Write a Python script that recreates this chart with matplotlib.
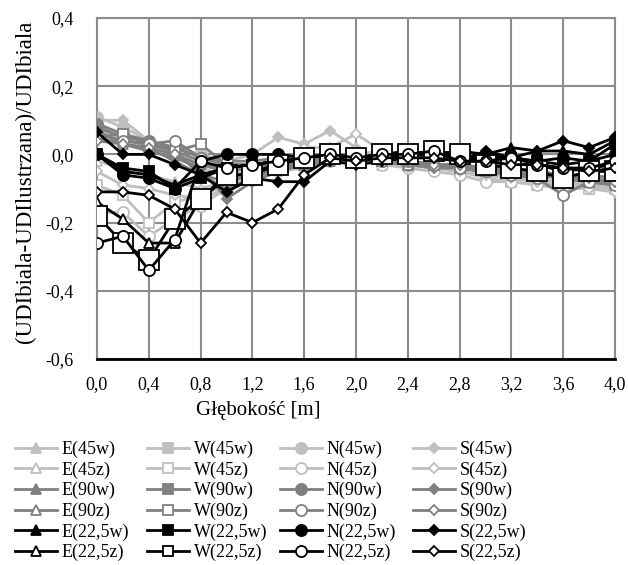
import matplotlib
matplotlib.use("Agg")
import matplotlib.pyplot as plt
from matplotlib.lines import Line2D

plt.rcParams['font.family'] = ['Liberation Serif', 'DejaVu Serif']

depth = [round(0.2 * i, 1) for i in range(21)]
xticks = [0.0, 0.4, 0.8, 1.2, 1.6, 2.0, 2.4, 2.8, 3.2, 3.6, 4.0]
yticks = [-0.6, -0.4, -0.2, 0.0, 0.2, 0.4]

# 45 (light gray)
E_45w = [0.08, 0.06, 0.03, 0.0, -0.03, -0.05, -0.04, -0.03, -0.02, -0.01, -0.01, -0.02, -0.02, -0.03, -0.04, -0.05, -0.06, -0.07, -0.08, -0.08, -0.09]
W_45w = [0.07, 0.05, 0.02, 0.0, -0.04, -0.06, -0.05, -0.03, -0.02, -0.01, -0.02, -0.02, -0.03, -0.04, -0.05, -0.06, -0.07, -0.08, -0.09, -0.09, -0.10]
N_45w = [0.11, 0.08, 0.04, 0.02, 0.0, -0.04, -0.04, -0.03, -0.02, -0.01, -0.01, -0.02, -0.03, -0.04, -0.05, -0.05, -0.06, -0.07, -0.08, -0.09, -0.10]
S_45w = [0.10, 0.10, 0.04, 0.02, 0.0, -0.02, 0.0, 0.05, 0.03, 0.07, 0.02, -0.02, -0.03, -0.04, -0.05, -0.06, -0.06, -0.08, -0.09, -0.10, -0.11]
E_45z = [-0.02, -0.04, -0.06, -0.08, -0.10, -0.08, -0.06, -0.04, -0.03, -0.01, -0.02, -0.03, -0.03, -0.04, -0.05, -0.06, -0.07, -0.08, -0.08, -0.09, -0.09]
W_45z = [-0.09, -0.12, -0.20, -0.14, -0.12, -0.09, -0.06, -0.04, -0.03, -0.01, 0.0, 0.01, -0.02, -0.03, -0.05, -0.07, -0.08, -0.09, -0.10, -0.10, -0.09]
N_45z = [-0.17, -0.17, -0.24, -0.19, -0.15, -0.10, -0.07, -0.05, -0.04, -0.02, -0.01, -0.03, -0.04, -0.05, -0.06, -0.08, -0.08, -0.09, -0.10, -0.09, -0.10]
S_45z = [-0.05, -0.09, -0.10, -0.12, -0.13, -0.10, -0.08, -0.05, 0.02, 0.02, 0.06, 0.01, -0.03, -0.04, -0.05, -0.06, -0.07, -0.08, -0.09, -0.10, -0.11]
# 90 (mid gray)
E_90w = [0.08, 0.05, 0.04, 0.01, -0.06, -0.10, -0.07, -0.04, -0.03, -0.02, -0.02, -0.02, -0.03, -0.03, -0.04, -0.05, -0.05, -0.06, -0.07, -0.08, -0.09]
W_90w = [0.06, 0.04, 0.03, 0.01, -0.02, -0.05, -0.04, -0.03, -0.02, -0.01, -0.01, -0.02, -0.02, -0.03, -0.04, -0.05, -0.05, -0.06, -0.07, -0.08, -0.08]
N_90w = [0.09, 0.06, 0.04, 0.02, -0.01, -0.03, -0.03, -0.02, -0.01, -0.01, -0.01, -0.02, -0.03, -0.03, -0.04, -0.05, -0.05, -0.06, -0.07, -0.07, -0.08]
S_90w = [0.07, 0.03, 0.01, -0.01, -0.04, -0.13, -0.08, -0.05, -0.03, -0.02, -0.02, -0.02, -0.03, -0.04, -0.04, -0.05, -0.06, -0.06, -0.07, -0.08, -0.09]
E_90z = [0.05, 0.03, 0.02, -0.02, -0.06, -0.08, -0.06, -0.04, -0.02, -0.01, -0.01, -0.02, -0.03, -0.03, -0.04, -0.04, -0.05, -0.06, -0.06, -0.07, -0.08]
W_90z = [0.05, 0.06, 0.03, 0.01, 0.03, -0.03, -0.03, -0.02, -0.01, 0.0, -0.01, -0.01, -0.02, -0.03, -0.03, -0.04, -0.04, -0.05, -0.06, -0.06, -0.07]
N_90z = [0.06, 0.04, 0.03, 0.04, -0.01, -0.02, -0.02, -0.01, -0.01, 0.0, -0.01, -0.02, -0.02, -0.03, -0.04, -0.05, -0.06, -0.07, -0.12, -0.08, -0.09]
S_90z = [0.04, 0.03, 0.02, 0.0, -0.03, -0.05, -0.04, -0.03, -0.02, -0.01, -0.01, -0.02, -0.02, -0.03, -0.03, -0.04, -0.05, -0.05, -0.06, -0.07, -0.08]
# 22,5 (black)
E_225w = [0.0, -0.05, -0.06, -0.09, -0.06, -0.04, -0.03, -0.02, -0.01, 0.0, -0.01, 0.0, 0.0, 0.0, 0.01, 0.0, 0.02, 0.01, 0.01, 0.0, 0.04]
W_225w = [0.0, -0.04, -0.05, -0.10, -0.07, -0.04, -0.03, -0.02, -0.01, 0.0, -0.01, 0.0, 0.01, 0.0, -0.01, -0.01, -0.01, -0.02, -0.03, -0.02, 0.03]
N_225w = [0.0, -0.06, -0.07, -0.10, -0.02, 0.0, 0.0, 0.0, -0.01, 0.0, -0.01, -0.01, 0.0, 0.01, -0.01, 0.0, -0.01, -0.02, -0.01, -0.02, 0.0]
S_225w = [0.065, 0.0, 0.0, -0.03, -0.06, -0.11, -0.07, -0.08, -0.08, -0.02, -0.03, -0.02, -0.01, -0.01, -0.02, 0.01, -0.01, 0.01, 0.04, 0.02, 0.05]
E_225z = [-0.14, -0.19, -0.26, -0.26, -0.13, -0.07, -0.05, -0.03, -0.01, 0.0, -0.01, 0.0, 0.0, 0.0, -0.01, -0.02, -0.03, -0.03, -0.05, -0.04, -0.03]
W_225z = [-0.18, -0.26, -0.31, -0.19, -0.13, -0.06, -0.06, -0.03, -0.01, 0.0, -0.01, 0.0, 0.0, 0.01, 0.0, -0.03, -0.04, -0.05, -0.07, -0.05, -0.05]
N_225z = [-0.26, -0.24, -0.34, -0.25, -0.02, -0.04, -0.03, -0.02, -0.01, 0.0, -0.01, 0.0, 0.0, 0.01, -0.02, -0.02, -0.01, -0.03, -0.04, -0.04, -0.02]
S_225z = [-0.11, -0.11, -0.12, -0.16, -0.26, -0.17, -0.20, -0.16, -0.06, -0.01, -0.02, -0.01, -0.01, -0.01, -0.02, -0.02, -0.03, -0.03, -0.04, -0.05, -0.04]

series = [
    ("E(45w)", E_45w), ("W(45w)", W_45w), ("N(45w)", N_45w), ("S(45w)", S_45w),
    ("E(45z)", E_45z), ("W(45z)", W_45z), ("N(45z)", N_45z), ("S(45z)", S_45z),
    ("E(90w)", E_90w), ("W(90w)", W_90w), ("N(90w)", N_90w), ("S(90w)", S_90w),
    ("E(90z)", E_90z), ("W(90z)", W_90z), ("N(90z)", N_90z), ("S(90z)", S_90z),
    ("E(22,5w)", E_225w), ("W(22,5w)", W_225w), ("N(22,5w)", N_225w), ("S(22,5w)", S_225w),
    ("E(22,5z)", E_225z), ("W(22,5z)", W_225z), ("N(22,5z)", N_225z), ("S(22,5z)", S_225z),
]

group_color = ["#BFBFBF", "#BFBFBF", "#808080", "#808080", "#000000", "#000000"]
markers = {"E": "^", "W": "s", "N": "o", "S": "D"}
msizes = {"E": 7, "W": 7, "N": 8, "S": 5.5}

W, H = 628, 565
fig = plt.figure(figsize=(W / 100, H / 100), dpi=100)
L, R, T, B = 97, 615, 18, 359
ax = fig.add_axes([L / W, 1 - B / H, (R - L) / W, (B - T) / H])

handles = []
for i, (name, vals) in enumerate(series):
    g = i // 4
    col = group_color[g]
    filled = (g % 2 == 0)
    m = markers[name[0]]
    ms = msizes[name[0]]
    ms_plot = 15 if name == "W(22,5z)" else ms
    ax.plot(depth, vals, color=col, lw=2, marker=m, markersize=ms_plot,
            markerfacecolor=col if filled else "white", markeredgecolor=col,
            markeredgewidth=1.3, zorder=3 + i * 0.01)
    handles.append(Line2D([], [], color=col, lw=2, marker=m, markersize=ms,
                          markerfacecolor=col if filled else "white",
                          markeredgecolor=col, markeredgewidth=1.3))

ax.set_xlim(0, 4.0)
ax.set_ylim(-0.6, 0.4)
ax.set_xticks(xticks)
ax.set_yticks(yticks)
ax.set_xticklabels([f"{v:.1f}".replace(".", ",") for v in xticks], fontsize=13)
ax.set_yticklabels([f"{v:.1f}".replace(".", ",") for v in yticks], fontsize=13)
ax.grid(True, color="#8C8C8C", lw=1.5)
ax.set_axisbelow(True)
for s in ["top", "right", "left"]:
    ax.spines[s].set_color("#8C8C8C")
    ax.spines[s].set_linewidth(1.5)
ax.spines["bottom"].set_color("black")
ax.spines["bottom"].set_linewidth(2)
ax.tick_params(axis="x", length=0, pad=12)
ax.tick_params(axis="y", length=0, pad=17)

fig.text(25 / W, 1 - 182 / H, "(UDIbiala-UDIlustrzana)/UDIbiala", fontsize=16.5,
         rotation=90, ha="center", va="center")
fig.text(258 / W, 1 - 411 / H, "Głębokość [m]", fontsize=15, ha="center", va="center")

labels = [s[0] for s in series]
col_x = [15, 147, 280, 413]
for c in range(4):
    idx = [r * 4 + c for r in range(6)]
    fig.legend([handles[k] for k in idx], [labels[k] for k in idx],
               ncol=1, loc="upper left", bbox_to_anchor=(col_x[c] / W, 1 - 441 / H),
               frameon=False, fontsize=13, handlelength=2.3, handletextpad=0.28,
               labelspacing=0.18, borderaxespad=0, borderpad=0)

fig.savefig("out.png", dpi=100)
